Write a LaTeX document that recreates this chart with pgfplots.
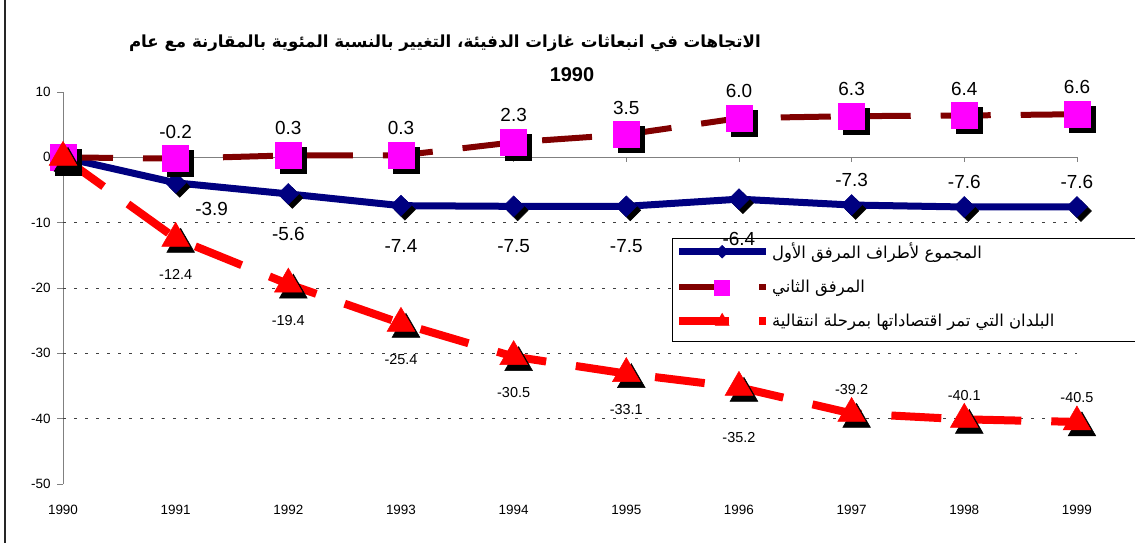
\documentclass[border=0pt]{standalone}
\usepackage{fontspec}
\setmainfont{Liberation Sans}
\newfontfamily\arabicfont[Script=Arabic]{DejaVu Sans}
\TeXXeTstate=1
\usepackage{pgfplots}
\pgfplotsset{compat=1.18}
\definecolor{navyb}{RGB}{0,0,128}
\definecolor{maroonb}{RGB}{128,0,0}
\definecolor{magentab}{RGB}{255,0,255}
\definecolor{redb}{RGB}{255,0,0}
\definecolor{axgray}{RGB}{128,128,128}
\begin{document}
\begin{tikzpicture}[x=1bp,y=1bp]
\useasboundingbox (0,0) rectangle (1135,-543);
\fill[white] (0,0) rectangle (1135,-543);
\draw[line width=2bp, black!85] (5,0) -- (5,-543);
\node[font=\fontsize{16.7}{20}\selectfont\bfseries\arabicfont] at (445,-43) {\beginR الاتجاهات في انبعاثات غازات الدفيئة، التغيير بالنسبة المئوية بالمقارنة مع عام\endR};
\node[font=\fontsize{20}{24}\selectfont\bfseries] at (572,-75) {1990};
\begin{axis}[
  at={(63bp,-484bp)}, anchor=south west,
  scale only axis, width=1014bp, height=392bp,
  xmin=1990, xmax=1999, ymin=-50, ymax=10,
  clip=false,
  axis y line=left, axis x line=bottom,
  axis line style={-},
  x axis line style={draw=none},
  y axis line style={axgray, line width=0.8bp},
  xtick={1990,1991,...,1999},
  xticklabels={1990,1991,1992,1993,1994,1995,1996,1997,1998,1999},
  ytick={-50,-40,...,10},
  yticklabels={-50,-40,-30,-20,-10,0,10},
  xtick style={draw=none},
  ytick style={axgray, line width=0.8bp},
  tick align=outside, major tick length=6bp,
  x tick label style={font=\fontsize{13.5}{16}\selectfont, yshift=-12bp},
  y tick label style={font=\fontsize{13.5}{16}\selectfont, xshift=-3bp},
  legend style={at={(0.6006,0.6276)}, anchor=north west, draw=none, fill=none,
    font=\fontsize{16.5}{19}\selectfont\arabicfont, row sep=16bp, inner xsep=3bp, inner ysep=3bp},
  legend cell align=left,
  legend image code/.code={\draw[mark repeat=2,mark phase=2,#1] plot coordinates {(0bp,0bp) (43bp,0bp) (87bp,0bp)};},
]
% grid and zero line
\pgfplotsinvokeforeach{-10,-20,-30,-40}{
  \draw[black!75, line width=0.6bp, dash pattern=on 3bp off 8bp] (axis cs:1990,#1) -- (axis cs:1999,#1);
}
\draw[axgray, line width=0.8bp] (axis cs:1990,0) -- (axis cs:1999,0);
\pgfplotsinvokeforeach{1991,...,1999}{
  \draw[axgray, line width=0.8bp] (axis cs:#1,0) -- ++(0pt,-5bp);
}
% Annex I total
\addplot[forget plot, only marks, mark=square*, mark size=7.4bp, black,
  mark options={xshift=4bp, yshift=-4bp, rotate=45, line width=0.5bp}]
  coordinates {(1990,0)(1991,-3.9)(1992,-5.6)(1993,-7.4)(1994,-7.5)(1995,-7.5)(1996,-6.4)(1997,-7.3)(1998,-7.6)(1999,-7.6)};
\addplot[navyb, line width=7bp, mark=square*, mark size=7.4bp,
  mark options={solid, rotate=45, line width=0.5bp, fill=navyb},
  legend image post style={mark size=4.5bp}]
  coordinates {(1990,0)(1991,-3.9)(1992,-5.6)(1993,-7.4)(1994,-7.5)(1995,-7.5)(1996,-6.4)(1997,-7.3)(1998,-7.6)(1999,-7.6)};
\addlegendentry{\beginR المجموع لأطراف المرفق الأول\endR}
% Annex II
\addplot[forget plot, only marks, mark=square*, mark size=13bp, black,
  mark options={xshift=5bp, yshift=-5bp, line width=0.5bp}]
  coordinates {(1990,0)(1991,-0.2)(1992,0.3)(1993,0.3)(1994,2.3)(1995,3.5)(1996,6.0)(1997,6.3)(1998,6.4)(1999,6.6)};
\addplot[maroonb, line width=6bp, dash pattern=on 50bp off 30bp, mark=square*, mark size=13bp,
  mark options={solid, line width=0.5bp, draw=magentab, fill=magentab},
  legend image post style={mark size=7.5bp}]
  coordinates {(1990,0)(1991,-0.2)(1992,0.3)(1993,0.3)(1994,2.3)(1995,3.5)(1996,6.0)(1997,6.3)(1998,6.4)(1999,6.6)};
\addlegendentry{\beginR المرفق الثاني\endR}
% EIT
\addplot[forget plot, only marks, mark=triangle*, mark size=16bp, black,
  mark options={xshift=5bp, yshift=-6bp, line width=0.5bp}]
  coordinates {(1990,0)(1991,-12.4)(1992,-19.4)(1993,-25.4)(1994,-30.5)(1995,-33.1)(1996,-35.2)(1997,-39.2)(1998,-40.1)(1999,-40.5)};
\addplot[redb, line width=8bp, dash pattern=on 50bp off 30bp, mark=triangle*, mark size=16bp,
  mark options={solid, line width=0.5bp, draw=redb, fill=redb},
  legend image post style={mark size=8bp}]
  coordinates {(1990,0)(1991,-12.4)(1992,-19.4)(1993,-25.4)(1994,-30.5)(1995,-33.1)(1996,-35.2)(1997,-39.2)(1998,-40.1)(1999,-40.5)};
\addlegendentry{\beginR البلدان التي تمر اقتصاداتها بمرحلة انتقالية\endR}
% labels
\addplot[forget plot, draw=none, mark=none, nodes near coords, point meta=explicit symbolic,
  every node near coord/.append style={text=black, anchor=south, inner sep=0pt, yshift=20bp, font=\fontsize{19}{22}\selectfont}]
  coordinates {(1991,-0.2)[-0.2] (1992,0.3)[0.3] (1993,0.3)[0.3] (1994,2.3)[2.3] (1995,3.5)[3.5] (1996,6.0)[6.0] (1997,6.3)[6.3] (1998,6.4)[6.4] (1999,6.6)[6.6]};
\addplot[forget plot, draw=none, mark=none, nodes near coords, point meta=explicit symbolic,
  every node near coord/.append style={text=black, anchor=center, inner sep=0pt, xshift=36bp, yshift=-26bp, font=\fontsize{19}{22}\selectfont}]
  coordinates {(1991,-3.9)[-3.9]};
\addplot[forget plot, draw=none, mark=none, nodes near coords, point meta=explicit symbolic,
  every node near coord/.append style={text=black, anchor=center, inner sep=0pt, yshift=-40bp, font=\fontsize{19}{22}\selectfont}]
  coordinates {(1992,-5.6)[-5.6] (1993,-7.4)[-7.4] (1994,-7.5)[-7.5] (1995,-7.5)[-7.5] (1996,-6.4)[-6.4]};
\addplot[forget plot, draw=none, mark=none, nodes near coords, point meta=explicit symbolic,
  every node near coord/.append style={text=black, anchor=center, inner sep=0pt, yshift=25bp, font=\fontsize{19}{22}\selectfont}]
  coordinates {(1997,-7.3)[-7.3] (1998,-7.6)[-7.6] (1999,-7.6)[-7.6]};
\addplot[forget plot, draw=none, mark=none, nodes near coords, point meta=explicit symbolic,
  every node near coord/.append style={text=black, anchor=center, inner sep=0pt, yshift=-36bp, font=\fontsize{14.5}{17}\selectfont}]
  coordinates {(1991,-12.4)[-12.4] (1992,-19.4)[-19.4] (1993,-25.4)[-25.4] (1994,-30.5)[-30.5] (1995,-33.1)[-33.1]};
\addplot[forget plot, draw=none, mark=none, nodes near coords, point meta=explicit symbolic,
  every node near coord/.append style={text=black, anchor=center, inner sep=0pt, yshift=-50bp, font=\fontsize{14.5}{17}\selectfont}]
  coordinates {(1996,-35.2)[-35.2]};
\addplot[forget plot, draw=none, mark=none, nodes near coords, point meta=explicit symbolic,
  every node near coord/.append style={text=black, anchor=center, inner sep=0pt, yshift=24bp, font=\fontsize{14.5}{17}\selectfont}]
  coordinates {(1997,-39.2)[-39.2] (1998,-40.1)[-40.1] (1999,-40.5)[-40.5]};
% legend frame
\draw[black, line width=0.8bp, fill=white] (axis description cs:0.6006,0.6276) rectangle (axis description cs:1.08,0.3648);
\end{axis}
\end{tikzpicture}
\end{document}
